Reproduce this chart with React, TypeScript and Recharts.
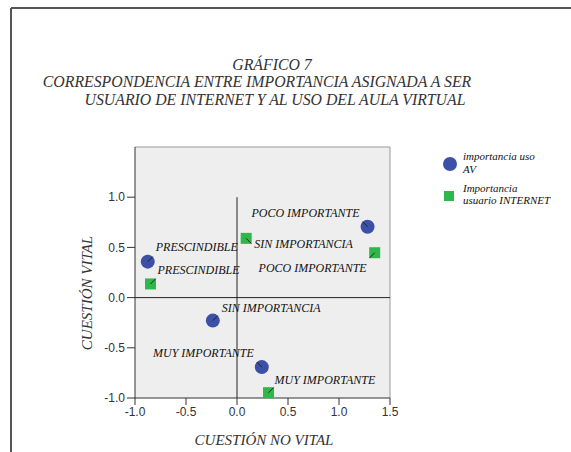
import React from "react";
import {
  ScatterChart,
  Scatter,
  XAxis,
  YAxis,
  CartesianGrid,
  ReferenceLine,
} from "recharts";

// categories shared by both series
const categories = ["PRESCINDIBLE", "SIN IMPORTANCIA", "POCO IMPORTANTE", "MUY IMPORTANTE"];

// importancia uso AV
const avX = [-0.875, -0.237, 1.28, 0.243];
const avY = [0.358, -0.229, 0.706, -0.692];

// Importancia usuario INTERNET
const netX = [-0.848, 0.09, 1.35, 0.309];
const netY = [0.136, 0.59, 0.447, -0.947];

const xTicks = [-1, -0.5, 0, 0.5, 1, 1.5];
const yTicks = [-1, -0.5, 0, 0.5, 1];

const titleLines = [
  "GRÁFICO 7",
  "CORRESPONDENCIA ENTRE IMPORTANCIA ASIGNADA A SER",
  "USUARIO DE INTERNET Y AL USO DEL AULA VIRTUAL",
];

const BLUE = "#3c50a8";
const GREEN = "#2eb84c";
const SERIF = "'Liberation Serif', 'Times New Roman', serif";
const SANS = "'Liberation Sans', Arial, sans-serif";

// label placement relative to the point (dx, dy, anchor)
const avLabelPos: [number, number, "start" | "end"][] = [
  [8, -11, "start"],
  [9, -9, "start"],
  [-8, -10, "end"],
  [-8, -10, "end"],
];
const netLabelPos: [number, number, "start" | "end"][] = [
  [7, -10, "start"],
  [8, 10, "start"],
  [-8, 19, "end"],
  [6, -9, "start"],
];

const avData = categories.map((name, i) => ({ x: avX[i], y: avY[i], name, i }));
const netData = categories.map((name, i) => ({ x: netX[i], y: netY[i], name, i }));

function makeShape(kind: "circle" | "square") {
  return (props: any) => {
    const { cx, cy, payload } = props;
    const pos = (kind === "circle" ? avLabelPos : netLabelPos)[payload.i];
    const [dx, dy, anchor] = pos;
    const lx = Math.sign(dx) * 5;
    const ly = Math.sign(dy) * 5;
    return (
      <g>
        {kind === "circle" ? (
          <circle cx={cx} cy={cy} r={7} fill={BLUE} />
        ) : (
          <rect x={cx - 5.5} y={cy - 5.5} width={11} height={11} fill={GREEN} />
        )}
        <line x1={cx} y1={cy} x2={cx + lx} y2={cy + ly} stroke="#222" strokeWidth={1} />
        <text
          x={cx + dx}
          y={cy + dy}
          textAnchor={anchor}
          style={{ fontFamily: SERIF, fontStyle: "italic", fontSize: 12 }}
          fill="#111"
        >
          {payload.name}
        </text>
      </g>
    );
  };
}

export default function App() {
  return (
    <div style={{ position: "absolute", left: 0, top: 0, width: 571, height: 452, background: "#fff" }}>
      <ScatterChart width={571} height={452} margin={{ top: 147, right: 181, bottom: 0, left: 0 }}>
        <CartesianGrid fill="#eeeeee" horizontal={false} vertical={false} />
        <XAxis
          type="number"
          dataKey="x"
          domain={[-1, 1.5]}
          ticks={xTicks}
          interval={0}
          height={54}
          tickSize={7}
          tickFormatter={(v: number) => v.toFixed(1)}
          tick={{ fontFamily: SANS, fontSize: 12, fill: "#333" }}
          stroke="#333"
        />
        <YAxis
          type="number"
          dataKey="y"
          domain={[-1, 1.5]}
          ticks={yTicks}
          interval={0}
          width={135}
          tickSize={8}
          tickFormatter={(v: number) => v.toFixed(1)}
          tick={{ fontFamily: SANS, fontSize: 12, fill: "#333" }}
          stroke="#333"
        />
        <ReferenceLine y={1.5} stroke="#999" />
        <ReferenceLine x={1.5} stroke="#999" />
        <ReferenceLine y={0} stroke="#222" />
        <ReferenceLine segment={[{ x: 0, y: 1 }, { x: 0, y: -1 }]} stroke="#222" />
        <Scatter data={avData} shape={makeShape("circle")} isAnimationActive={false} />
        <Scatter data={netData} shape={makeShape("square")} isAnimationActive={false} />
      </ScatterChart>
      <svg
        width={571}
        height={452}
        style={{ position: "absolute", left: 0, top: 0, pointerEvents: "none" }}
      >
        {/* frame */}
        <line x1={11} y1={8} x2={571} y2={8} stroke="#555" strokeWidth={2} />
        <line x1={11} y1={8} x2={11} y2={452} stroke="#555" strokeWidth={2} />
        {/* title */}
        <g style={{ fontFamily: SERIF, fontStyle: "italic", fontSize: 15.8 }} fill="#333" textAnchor="middle">
          <text x={272} y={70}>{titleLines[0]}</text>
          <text x={257} y={87}>{titleLines[1]}</text>
          <text x={275} y={105}>{titleLines[2]}</text>
        </g>
        {/* axis titles */}
        <text x={264} y={445} textAnchor="middle" style={{ fontFamily: SERIF, fontStyle: "italic", fontSize: 15 }} fill="#333">
          CUESTIÓN NO VITAL
        </text>
        <text
          x={92}
          y={293}
          transform="rotate(-90 92 293)"
          textAnchor="middle"
          style={{ fontFamily: SERIF, fontStyle: "italic", fontSize: 15 }}
          fill="#333"
        >
          CUESTIÓN VITAL
        </text>
        {/* legend */}
        <circle cx={450} cy={164} r={7} fill={BLUE} />
        <rect x={444} y={191} width={10} height={10} fill={GREEN} />
        <g style={{ fontFamily: SERIF, fontStyle: "italic", fontSize: 11 }} fill="#111">
          <text x={463} y={160}>importancia uso</text>
          <text x={463} y={173}>AV</text>
          <text x={463} y={192}>Importancia</text>
          <text x={463} y={204}>usuario INTERNET</text>
        </g>
      </svg>
    </div>
  );
}
